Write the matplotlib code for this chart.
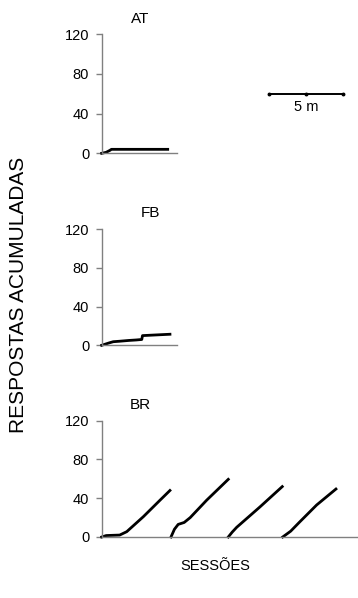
import matplotlib
matplotlib.use("Agg")
import matplotlib.pyplot as plt

plt.rcParams['font.family'] = ['Liberation Sans', 'DejaVu Sans']

# ---- data (minutes, cumulative responses) ----
at_x = [0.0, 0.3, 0.55, 0.65, 4.4]
at_y = [0, 1, 3, 4, 4]

fb_x = [0.0, 0.3, 0.5, 0.77, 1.2, 1.8, 2.3, 2.67, 2.72, 3.5, 4.55]
fb_y = [0, 1.5, 2.5, 3.7, 4.2, 5.0, 5.5, 6.0, 10.0, 10.6, 11.4]

br_segments = [
    ([0.0, 0.3, 1.2, 1.67, 2.78, 3.89, 4.55], [0, 1.5, 2, 5.5, 21, 38, 48]),
    ([4.62, 4.85, 5.1, 5.5, 5.9, 7.0, 8.44], [0, 8, 13, 15, 20, 38, 59.5]),
    ([8.44, 8.7, 9.0, 10.55, 12.04], [0, 5, 10, 31, 52]),
    ([12.07, 12.6, 13.2, 14.33, 15.62], [0, 6, 15.5, 33, 49.5]),
]

yticks = [0, 40, 80, 120]
titles = ["AT", "FB", "BR"]

W, H = 358, 598
fig = plt.figure(figsize=(W / 100, H / 100), dpi=100)

def px_axes(left, top, right, bottom):
    return fig.add_axes([left / W, 1 - bottom / H, (right - left) / W, (bottom - top) / H])

ax_at = px_axes(101.7, 34.3, 176.7, 153.3)
ax_fb = px_axes(101.7, 229.0, 176.7, 345.3)
ax_br = px_axes(101.7, 420.7, 358.0, 537.0)

gray = '#808080'
for ax, xmax in [(ax_at, 5.0), (ax_fb, 5.0), (ax_br, 17.09)]:
    ax.set_xlim(0, xmax)
    ax.set_ylim(0, 120)
    ax.set_yticks(yticks)
    ax.set_xticks([])
    for s in ['top', 'right']:
        ax.spines[s].set_visible(False)
    for s in ['left', 'bottom']:
        ax.spines[s].set_color(gray)
        ax.spines[s].set_linewidth(1.0)
    ax.tick_params(axis='y', direction='out', length=4, width=1.0, color=gray,
                   labelsize=10.5, pad=5)
    ax.patch.set_visible(False)

lw = 2.0
ax_at.plot(at_x, at_y, color='black', lw=lw, clip_on=False)
ax_fb.plot(fb_x, fb_y, color='black', lw=lw, clip_on=False)
for sx, sy in br_segments:
    ax_br.plot(sx, sy, color='black', lw=lw, clip_on=False)

# titles
fig.text(140 / W, 1 - 19 / H, titles[0], ha='center', va='center', fontsize=11)
fig.text(150 / W, 1 - 213.3 / H, titles[1], ha='center', va='center', fontsize=11)
fig.text(140 / W, 1 - 405 / H, titles[2], ha='center', va='center', fontsize=11)

# scale bar (5 min) in AT axes data units
sb_x = [11.17, 13.62, 16.07]
sb_y = [59.5, 59.5, 59.5]
ax_at.plot(sb_x, sb_y, color='black', lw=1.4, marker='o', markersize=1.8, clip_on=False)
ax_at.text(13.67, 47, "5 m", ha='center', va='center', fontsize=10.5, clip_on=False)

fig.text(19 / W, 1 - 295 / H, "RESPOSTAS ACUMULADAS", rotation=90,
         ha='center', va='center', fontsize=15)
fig.text(215 / W, 1 - 566 / H, "SESSÕES", ha='center', va='center', fontsize=10.5)

fig.savefig("out.png", dpi=100)
